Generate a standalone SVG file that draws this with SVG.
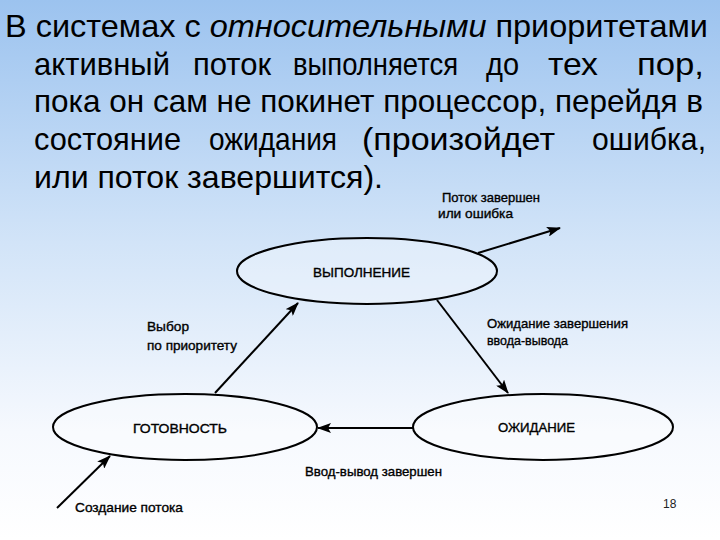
<svg xmlns="http://www.w3.org/2000/svg" width="720" height="540" viewBox="0 0 720 540">
<defs>
<linearGradient id="bg" x1="0" y1="0" x2="0" y2="1">
<stop offset="0" stop-color="#9cc3ef"/>
<stop offset="0.45" stop-color="#d2e4f8"/>
<stop offset="0.8" stop-color="#f6f9fe"/>
<stop offset="1" stop-color="#ffffff"/>
</linearGradient>
<marker id="ah" markerUnits="userSpaceOnUse" markerWidth="14" markerHeight="10" refX="13" refY="5" orient="auto">
<path d="M0,0 L14,5 L0,10 L3,5 z" fill="#000"/>
</marker>
<style>
.t{font-family:"Liberation Sans",Arial,sans-serif;font-size:32px;fill:#000}
.s{font-family:"Liberation Sans",Arial,sans-serif;font-size:13px;fill:#000;stroke:#000;stroke-width:0.35}
.st{fill:#ffffff;fill-opacity:0.3;stroke:#000;stroke-width:2}
.c{stroke:#000;stroke-width:2;fill:none;marker-end:url(#ah)}
</style>
</defs>
<rect width="720" height="540" fill="url(#bg)"/>
<g id="title">
<text class="t" x="5" y="37" textLength="703" lengthAdjust="spacingAndGlyphs">В системах с <tspan font-style="italic">относительными</tspan> приоритетами</text>
<text class="t" y="75" x="34" textLength="136" lengthAdjust="spacingAndGlyphs">активный</text>
<text class="t" y="75" x="193" textLength="78" lengthAdjust="spacingAndGlyphs">поток</text>
<text class="t" y="75" x="293" textLength="165" lengthAdjust="spacingAndGlyphs">выполняется</text>
<text class="t" y="75" x="486" textLength="33" lengthAdjust="spacingAndGlyphs">до</text>
<text class="t" y="75" x="548" textLength="50" lengthAdjust="spacingAndGlyphs">тех</text>
<text class="t" y="75" x="637" textLength="67" lengthAdjust="spacingAndGlyphs">пор,</text>
<text class="t" x="34" y="112" textLength="669" lengthAdjust="spacingAndGlyphs">пока он сам не покинет процессор, перейдя в</text>
<text class="t" y="150" x="34" textLength="147" lengthAdjust="spacingAndGlyphs">состояние</text>
<text class="t" y="150" x="209" textLength="128" lengthAdjust="spacingAndGlyphs">ожидания</text>
<text class="t" y="150" x="362" textLength="193" lengthAdjust="spacingAndGlyphs">(произойдет</text>
<text class="t" y="150" x="592" textLength="114" lengthAdjust="spacingAndGlyphs">ошибка,</text>
<text class="t" x="34" y="188" textLength="349" lengthAdjust="spacingAndGlyphs">или поток завершится).</text>
</g>
<g id="node-run">
<ellipse class="st" cx="367" cy="271" rx="130" ry="33"/>
<text class="s" x="313" y="277" textLength="97" lengthAdjust="spacingAndGlyphs">ВЫПОЛНЕНИЕ</text>
</g>
<g id="node-ready">
<ellipse class="st" cx="185" cy="427" rx="132" ry="33"/>
<text class="s" x="133" y="433" textLength="94" lengthAdjust="spacingAndGlyphs">ГОТОВНОСТЬ</text>
</g>
<g id="node-wait">
<ellipse class="st" cx="543" cy="427" rx="130" ry="33"/>
<text class="s" x="498" y="432" textLength="77" lengthAdjust="spacingAndGlyphs">ОЖИДАНИЕ</text>
</g>
<g id="connectors">
<line class="c" x1="57" y1="508" x2="110" y2="456"/>
<line class="c" x1="215" y1="393" x2="298" y2="303"/>
<line class="c" x1="437" y1="300" x2="508" y2="393"/>
<line class="c" x1="413" y1="428" x2="318" y2="428"/>
<line class="c" x1="478" y1="253" x2="560" y2="228"/>
</g>
<g id="labels">
<text class="s" x="442" y="202" textLength="98" lengthAdjust="spacingAndGlyphs">Поток завершен</text>
<text class="s" x="438" y="218" textLength="75" lengthAdjust="spacingAndGlyphs">или ошибка</text>
<text class="s" x="147" y="331" textLength="42" lengthAdjust="spacingAndGlyphs">Выбор</text>
<text class="s" x="147" y="350" textLength="90" lengthAdjust="spacingAndGlyphs">по приоритету</text>
<text class="s" x="487" y="328" textLength="141" lengthAdjust="spacingAndGlyphs">Ожидание завершения</text>
<text class="s" x="487" y="345" textLength="81" lengthAdjust="spacingAndGlyphs">ввода-вывода</text>
<text class="s" x="305" y="476" textLength="137" lengthAdjust="spacingAndGlyphs">Ввод-вывод завершен</text>
<text class="s" x="75" y="512" textLength="108" lengthAdjust="spacingAndGlyphs">Создание потока</text>
<text x="663" y="508" font-family="Liberation Sans,Arial,sans-serif" font-size="12" fill="#222">18</text>
</g>
</svg>
